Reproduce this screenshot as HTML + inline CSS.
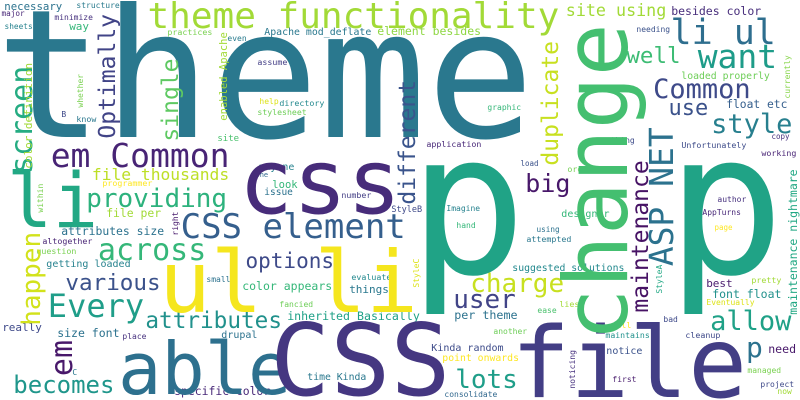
<!DOCTYPE html>
<html><head><meta charset="utf-8"><style>
html,body{margin:0;padding:0;background:#fff;width:800px;height:400px;overflow:hidden;}
svg{display:block;}
text{font-family:"DejaVu Sans Mono","Liberation Mono",monospace;}
</style></head>
<body>
<svg id="cloud" width="800" height="400" viewBox="0 0 800 400" xmlns="http://www.w3.org/2000/svg" overflow="hidden">
<rect width="800" height="400" fill="#fff"/>
</svg>
<script>
// horizontal words: [text, inkLeftX, baselineY, fontSize, color]
const horizontalWords = [
["theme",8,137,179,"#2a788e"],
["theme functionality",150,28,36,"#a2da37"],
["site using",567,16,16.7,"#a2da37"],
["besides color",672,15,11.5,"#472d7b"],
["li ul",673,44,35,"#2e6e8e"],
["want",700,68,33,"#1e9c89"],
["well",628,63,22.5,"#3dbc74"],
["Common",655,98,27,"#3e4a89"],
["use",670,115,22,"#3b528b"],
["style",713,133,27,"#277f8e"],
["float etc",727,108,11.3,"#355f8d"],
["loaded properly",682,79,9.8,"#6ece58"],
["needing",637,32,8,"#3b528b"],
["graphic",488,110,8,"#35b779"],
["application",427,147,8.3,"#482878"],
["something",592,143,8,"#3e4c8a"],
["Unfortunately",682,148,8.3,"#3e4c8a"],
["copy",772,139,7.5,"#46307e"],
["working",762,156,8.3,"#482475"],
["load",521,166,7.5,"#3b528b"],
["organize",568,172,8.3,"#75d054"],
["big",527,192,25,"#48186a"],
["element besides",378,35,11.5,"#8fd744"],
["Apache mod_deflate",265,35,9.9,"#2a788e"],
["necessary",5,10,10.7,"#2c738e"],
["structure",77,8,8,"#2a7b8e"],
["major",2,16,7.7,"#482677"],
["minimize",55,20,8,"#46307e"],
["sheets",5,29,7.8,"#26828e"],
["way",70,30,11,"#35b779"],
["practices",168,35,8.3,"#7ad151"],
["even",228,41,8,"#297b8e"],
["assume",258,65,8.3,"#433e85"],
["help",260,104,8,"#dde318"],
["directory",280,106,8.3,"#23898e"],
["stylesheet",258,115,8.2,"#6ece58"],
["B",62,117,8,"#3e4989"],
["know",77,122,8.3,"#2a788e"],
["site",218,141,9,"#4ac16d"],
["em Common",53,167,33,"#482475"],
["file thousands",93,180,16.3,"#bddf26"],
["anyone",259,170,10,"#26828e"],
["one",256,177,7,"#31688e"],
["look",273,188,10.5,"#35b779"],
["issue",265,195,9.5,"#2c728e"],
["number",342,198,8.3,"#433e85"],
["programmer",103,186,8.3,"#fde725"],
["providing",88,207,26,"#2db27d"],
["css",245,213,90,"#472c7a"],
["li",12,227,76,"#22a884"],
["file per",107,217,11.4,"#a2da37"],
["attributes size",62,235,11.4,"#2c728e"],
["altogether",43,244,8.3,"#482475"],
["question",37,254,8.3,"#7ad151"],
["getting loaded",47,267,10,"#26828e"],
["across",100,260,30,"#35b779"],
["CSS element",183,238,34,"#355f8d"],
["options",247,268,21,"#3e4a89"],
["various",67,290,22.6,"#3b528b"],
["Every",50,317,32,"#1f9e89"],
["color appears",243,290,11.5,"#35b779"],
["small",207,282,8,"#2c728e"],
["things",350,293,11,"#2a788e"],
["evaluate",352,280,8.3,"#23898e"],
["fancied",280,307,8,"#6ece58"],
["attributes",147,328,22.7,"#21918c"],
["inherited Basically",288,320,11.6,"#1fa187"],
["really",3,331,11,"#3e4989"],
["size font",58,337,11.5,"#2c728e"],
["place",123,339,8,"#46307e"],
["drupal",222,338,10,"#2c728e"],
["becomes",15,393,24,"#1f968b"],
["C",73,375,8,"#2a788e"],
["specific color",175,395,11.4,"#482878"],
["able",123,394,72,"#2d708e"],
["CSS",277,395,100,"#453781"],
["ul li",165,312,86,"#f5e61e"],
["StyleB",392,212,8.5,"#3e4989"],
["time Kinda",308,380,9.8,"#2a788e"],
["Kinda random",432,351,10,"#3e4c8a"],
["point onwards",443,361,9.8,"#fde725"],
["lots",457,388,26,"#1f9e89"],
["consolidate",445,397,8,"#31688e"],
["user",455,308,26,"#414487"],
["charge",472,292,26,"#c8e020"],
["per theme",455,319,11.7,"#2c728e"],
["suggested solutions",513,271,9.8,"#23898e"],
["using",537,232,7.7,"#2c728e"],
["attempted",527,242,8.3,"#2a788e"],
["designer",562,217,10,"#35b779"],
["Imagine",447,211,8,"#26828e"],
["hand",457,228,8,"#35b779"],
["AppTurns",703,215,8,"#482878"],
["author",718,202,8,"#46307e"],
["page",715,230,7.5,"#fde725"],
["best",707,287,11,"#481b6d"],
["font float",713,298,11.5,"#21918c"],
["pretty",752,283,8.3,"#a2da37"],
["Eventually",707,305,8,"#dde318"],
["allow",712,330,27,"#1fa187"],
["ease",538,313,8,"#4ac16d"],
["lies",560,307,8.3,"#a2da37"],
["will",612,328,8.3,"#fde725"],
["bad",664,322,8,"#3e4989"],
["another",494,334,8,"#6ece58"],
["maintains",606,338,8.2,"#21918c"],
["cleanup",686,338,8.3,"#3e4989"],
["p",748,357,28,"#2c728e"],
["need",769,353,11.6,"#48186a"],
["notice",607,354,10,"#3b528b"],
["managed",748,373,8,"#7ad151"],
["first",613,382,8,"#481b6d"],
["project",761,387,8,"#3e4989"],
["now",778,394,8,"#a2da37"],
["file",518,397,98,"#433e85"],
["p",422,273,197,"#20a386"],
["p",680,273,197,"#20a386"]
];
// vertical words (reading upward): [text, baselineX, bottomY, fontSize, color]
const verticalWords = [
["Optimally",115,137,23,"#414487"],
["screen",32,172,30,"#25ac82"],
["single",178,140,23,"#5ec962"],
["enabled Apache",227,120,10.5,"#a2da37"],
["color definition",32,168,11,"#a2da37"],
["whether",83,107,8,"#7ad151"],
["within",43,212,8,"#7ad151"],
["different",415,203,23,"#3a548c"],
["duplicate",558,164,23,"#c8e020"],
["change",627,335,88,"#44bf70"],
["ASP NET",673,264,33,"#2c728e"],
["maintenance",648,311,23,"#471365"],
["maintenance nightmare",797,314,11.5,"#22a884"],
["currently",790,98,8,"#86d549"],
["StyleA",662,293,8,"#22a884"],
["StyleC",419,287,8,"#dde318"],
["noticing",575,388,8,"#46307e"],
["right",178,235,8,"#481b6d"],
["happen",40,324,26,"#d2e21b"],
["em",72,374,30,"#48186a"]
];
const NS="http://www.w3.org/2000/svg";
const svg=document.getElementById("cloud");
function slug(t){return t.toLowerCase().replace(/[^a-z0-9]+/g,"-").replace(/^-|-$/g,"");}
horizontalWords.forEach(function(w){
  const t=document.createElementNS(NS,"text");
  t.setAttribute("x",(w[1]-0.07*w[3]).toFixed(1));
  t.setAttribute("y",w[2]);
  t.setAttribute("font-size",w[3]);
  t.setAttribute("fill",w[4]);
  
  
  t.textContent=w[0];
  svg.appendChild(t);
});
verticalWords.forEach(function(w){
  const t=document.createElementNS(NS,"text");
  const sy=w[2]+0.07*w[3];
  t.setAttribute("x",w[1]);
  t.setAttribute("y",sy.toFixed(1));
  t.setAttribute("transform","rotate(-90 "+w[1]+" "+sy.toFixed(1)+")");
  t.setAttribute("font-size",w[3]);
  t.setAttribute("fill",w[4]);
  
  
  t.textContent=w[0];
  svg.appendChild(t);
});
</script>
</body></html>
